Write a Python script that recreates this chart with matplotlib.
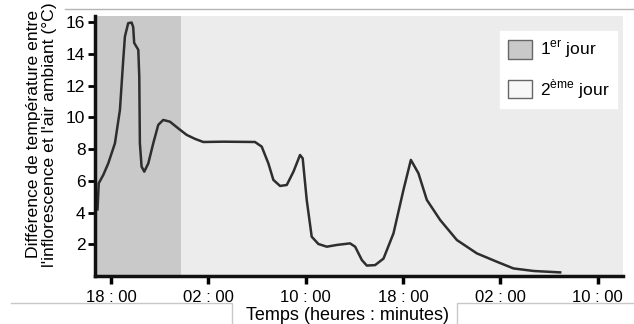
import matplotlib.pyplot as plt
from matplotlib.patches import Patch
from matplotlib.lines import Line2D

plt.rcParams["font.family"] = ["Liberation Sans", "DejaVu Sans"]
plt.rcParams["mathtext.fontset"] = "custom"
plt.rcParams["mathtext.rm"] = "Liberation Sans"

# --- Data (hours counted from 00:00 of day 1) ---
hours = [16.9, 17.0, 17.37, 17.78, 18.33, 18.74, 19.01, 19.15, 19.42, 19.7,
         19.83, 19.91, 20.25, 20.33, 20.38, 20.52, 20.74, 21.07, 21.48, 21.89,
         22.3, 22.85, 23.53, 24.22, 24.9, 25.59, 27.24, 29.84, 30.39, 30.94,
         31.35, 31.9, 32.45, 33.0, 33.54, 33.76, 34.09, 34.5, 35.05, 35.74,
         36.56, 37.65, 38.07, 38.62, 39.03, 39.71, 40.4, 41.22, 42.04, 42.65,
         43.27, 43.96, 45.06, 46.43, 48.07, 49.72, 51.08, 52.73, 54.92]
temp_diff = [4.2, 5.85, 6.37, 7.1, 8.37, 10.47, 13.6, 15.1, 15.94, 15.98,
             15.7, 14.7, 14.26, 12.57, 8.37, 6.9, 6.58, 7.1, 8.37, 9.53,
             9.84, 9.73, 9.31, 8.9, 8.65, 8.45, 8.47, 8.45, 8.16, 7.1,
             6.06, 5.68, 5.74, 6.58, 7.63, 7.42, 4.8, 2.48, 2.02, 1.85,
             1.96, 2.06, 1.85, 1.01, 0.66, 0.69, 1.1, 2.69, 5.43, 7.32,
             6.48, 4.8, 3.53, 2.27, 1.43, 0.9, 0.48, 0.32, 0.23]

tick_hours = [18, 26, 34, 42, 50, 58]
tick_labels = ["18 : 00", "02 : 00", "10 : 00", "18 : 00", "02 : 00", "10 : 00"]
day1_end = 23.8
x_min, x_max = 16.7, 60.1

fig = plt.figure(figsize=(6.34, 3.24), dpi=100)
ax = fig.add_axes([0.150, 0.148, 0.833, 0.803])

# shaded days
ax.axvspan(x_min, day1_end, color="#c9c9c9", lw=0)
ax.axvspan(day1_end, x_max, color="#ececec", lw=0)

ax.plot(hours, temp_diff, color="#2e2e2e", lw=1.8)

ax.set_xlim(x_min, x_max)
ax.set_ylim(0, 16.4)
ax.set_xticks(tick_hours)
ax.set_xticklabels(tick_labels, fontsize=12)
ax.set_yticks([2, 4, 6, 8, 10, 12, 14, 16])
ax.tick_params(axis="y", labelsize=12.5, width=2, length=5, pad=2)
ax.tick_params(axis="x", width=2.5, length=6, pad=4)

for s in ["top", "right"]:
    ax.spines[s].set_visible(False)
for s in ["left", "bottom"]:
    ax.spines[s].set_linewidth(2.5)
    ax.spines[s].set_color("#111111")

ax.set_xlabel("Temps (heures : minutes)", fontsize=13)
ax.xaxis.set_label_coords(0.477, -0.118)
ax.set_ylabel("Différence de température entre\nl'inflorescence et l'air ambiant (°C)",
              fontsize=12.6, linespacing=1.1)
ax.yaxis.set_label_coords(-0.072, 0.545)

handles = [Patch(facecolor="#c9c9c9", edgecolor="#666666"),
           Patch(facecolor="#f7f7f7", edgecolor="#666666")]
labels = [r"1$^{\mathrm{er}}$ jour", r"2$^{\mathrm{ème}}$ jour"]
leg = ax.legend(handles, labels, loc="upper right", bbox_to_anchor=(0.988, 0.94),
                fontsize=12.5, frameon=True, fancybox=False, handlelength=1.35,
                handleheight=1.25, labelspacing=0.95, borderpad=0.45,
                handletextpad=0.45, borderaxespad=0)
leg.get_frame().set_edgecolor("white")
leg.get_frame().set_facecolor("white")
leg.get_frame().set_alpha(1)

# scan borders around the figure
fig.add_artist(Line2D([0.102, 1.0], [0.972, 0.972], color="#b5b5b5", lw=1))
fig.add_artist(Line2D([0.017, 0.366, 0.366], [0.065, 0.065, 0.0], color="#c8c8c8", lw=1))
fig.add_artist(Line2D([1.0, 0.721, 0.721], [0.065, 0.065, 0.0], color="#c8c8c8", lw=1))

fig.savefig("out.png", dpi=100)
